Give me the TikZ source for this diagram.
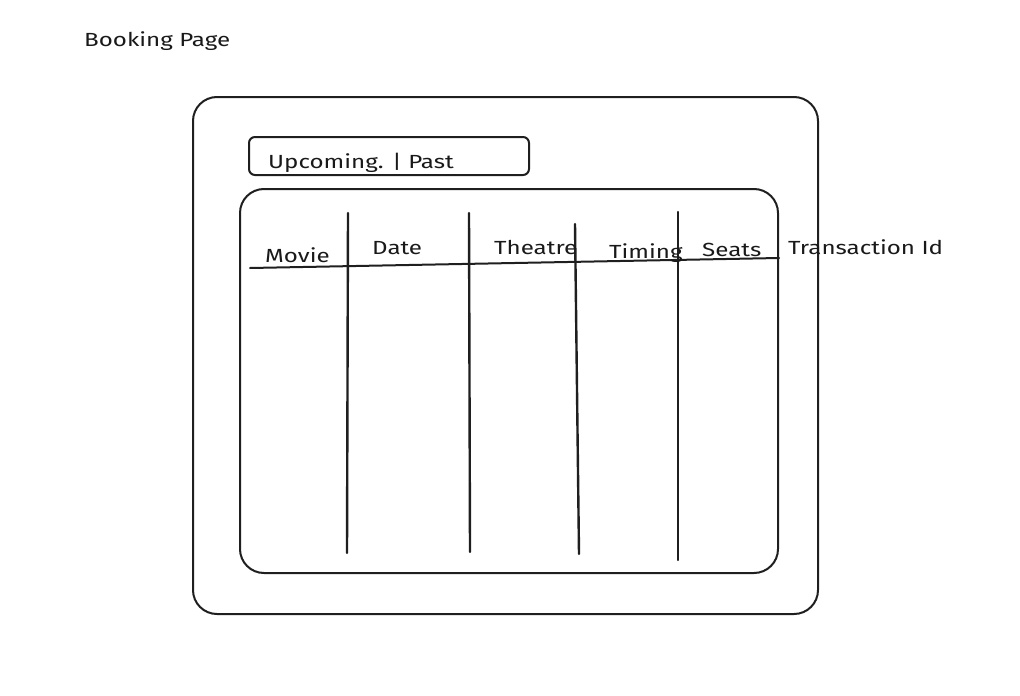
\documentclass[tikz,border=0pt]{standalone}
\usepackage{fontspec}
\setmainfont{Fira Sans}[FakeStretch=1.27]
\begin{document}
\begin{tikzpicture}[x=1pt,y=-1pt,
  sketch/.style={draw=black!88,line width=2pt,line join=round,line cap=round},
  frame/.style={sketch,rounded corners=24pt},
  tab/.style={sketch,rounded corners=6pt},
  lbl/.style={inner sep=0pt,anchor=base west,font=\fontsize{19}{22}\selectfont,text=black!90},
  col/.style={draw=black!88,line width=2.4pt,line cap=round}]
  \useasboundingbox (0,0) rectangle (1020,696);

  % page title
  \node[lbl] (title) at (84,46) {Booking Page};

  % outer screen and inner panels
  \draw[frame] (193,97) rectangle (818,614);
  \draw[tab] (249,137) rectangle (529,175);
  \node[lbl] (tabs) at (268,168) {Upcoming. | Past};
  \draw[frame] (240,189) rectangle (778,573);

  % table header row
  \coordinate (hl) at (250,268);
  \coordinate (hr) at (779,258);
  \draw[sketch] (hl) -- (hr);

  % column separators
  \coordinate (c1t) at (348,213); \coordinate (c1b) at (347,553);
  \coordinate (c2t) at (469,213); \coordinate (c2b) at (470,552);
  \coordinate (c3t) at (575,224); \coordinate (c3b) at (579,554);
  \coordinate (c4t) at (678,212); \coordinate (c4b) at (678,560);
  \draw[col] (c1t) -- (c1b);
  \draw[col] (c2t) -- (c2b);
  \draw[col] (c3t) -- (c3b);
  \draw[col] (c4t) -- (c4b);

  % column headings
  \node[lbl] (hmovie) at (265,262) {Movie};
  \node[lbl] (hdate) at (372,254) {Date};
  \node[lbl] (htheatre) at (494,254) {Theatre};
  \node[lbl] (htiming) at (609,258) {Timing};
  \node[lbl] (hseats) at (702,256) {Seats};
  \node[lbl] (htrans) at (788,254) {Transaction Id};
\end{tikzpicture}
\end{document}
